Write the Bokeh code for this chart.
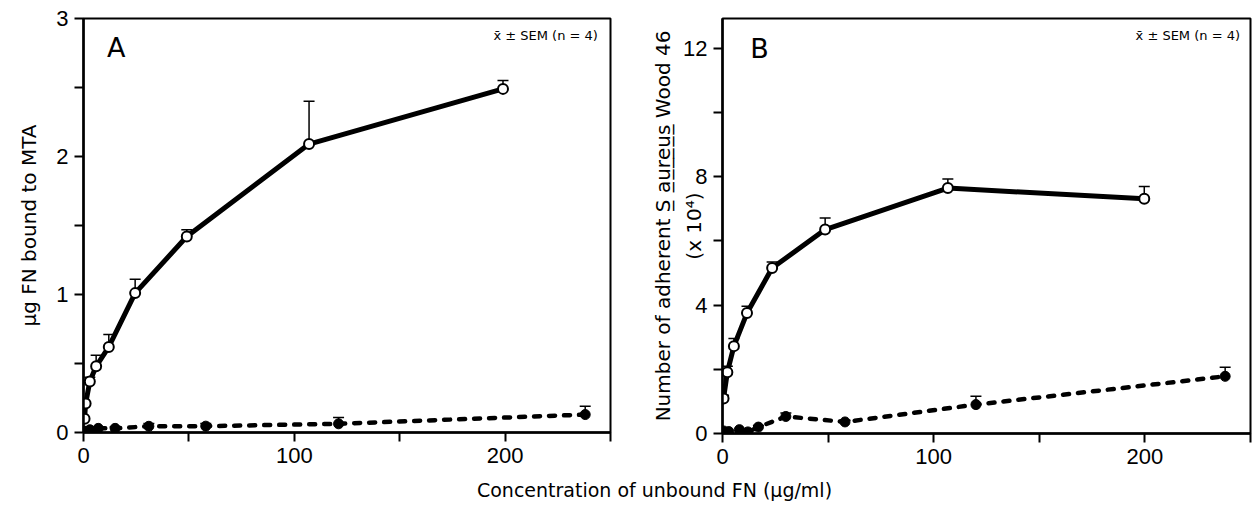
import math
from bokeh.plotting import figure
from bokeh.models import ColumnDataSource, Whisker, TeeHead, Label, FixedTicker, Range1d
from bokeh.layouts import column, row
from bokeh.embed import file_html
from bokeh.resources import INLINE
from bokeh.core.properties import value

# ---------------- data ----------------
# Panel A: ug FN bound to MTA
a_open_x = [0.5, 1, 3, 6, 12, 24.5, 49, 107, 199]
a_open_y = [0.10, 0.21, 0.37, 0.48, 0.62, 1.01, 1.42, 2.09, 2.49]
a_open_err = [0, 0, 0.03, 0.08, 0.09, 0.10, 0.05, 0.31, 0.06]

a_closed_x = [0.5, 3, 7, 15, 31, 58, 121, 238]
a_closed_y = [0.01, 0.02, 0.03, 0.03, 0.045, 0.046, 0.063, 0.13]
a_closed_err = [0, 0, 0.01, 0.01, 0.02, 0.02, 0.045, 0.06]

# Panel B: number of adherent S. aureus Wood 46 (x 10^4)
b_open_x = [0.5, 2.3, 5.4, 11.6, 23.5, 48.6, 106.7, 199.7]
b_open_y = [1.09, 1.91, 2.72, 3.75, 5.15, 6.35, 7.64, 7.31]
b_open_err = [0.1, 0.18, 0.24, 0.21, 0.19, 0.36, 0.28, 0.38]

b_closed_x = [0.5, 3, 8, 12, 17, 30, 58, 120, 238]
b_closed_y = [0.08, 0.06, 0.12, 0.05, 0.2, 0.53, 0.36, 0.9, 1.78]
b_closed_err = [0, 0, 0, 0, 0.05, 0.11, 0.05, 0.26, 0.28]

x_ticks = [0, 100, 200]
x_minor = [50, 150, 250]
a_yticks = [0, 1, 2, 3]
a_yminor = [0.5, 1.5, 2.5]
b_yticks = [0, 4, 8, 12]
b_yminor = [2, 6, 10]

TICK_FONT = "Liberation Sans"
LABEL_FONT = "DejaVu Sans"


def whiskers(p, xs, ys, errs):
    keep = [i for i, e in enumerate(errs) if e > 0]
    src = ColumnDataSource(dict(
        x=[xs[i] for i in keep],
        lower=[ys[i] for i in keep],
        upper=[ys[i] + errs[i] for i in keep],
    ))
    w = Whisker(source=src, base="x", lower="lower", upper="upper",
                dimension="height", line_width=1.5, line_color="black",
                upper_head=TeeHead(size=11, line_width=1.5, line_color="black"),
                lower_head=None)
    p.add_layout(w)


def style(p, yticks, yminor, ylabel, ylabel_standoff):
    p.xaxis.ticker = FixedTicker(ticks=x_ticks, minor_ticks=x_minor)
    p.yaxis.ticker = FixedTicker(ticks=yticks, minor_ticks=yminor)
    for ax in (p.xaxis[0], p.yaxis[0]):
        ax.axis_line_width = 2.5
        ax.axis_line_color = "black"
        ax.major_tick_line_width = 2
        ax.minor_tick_line_width = 2
        ax.major_tick_line_color = "black"
        ax.minor_tick_line_color = "black"
        ax.major_tick_out = 9
        ax.major_tick_in = 0
        ax.minor_tick_out = 9
        ax.minor_tick_in = 0
        ax.major_label_text_font = TICK_FONT
        ax.major_label_text_font_size = "22px"
        ax.major_label_text_color = "black"
        ax.major_label_standoff = 6
        ax.axis_label_text_font = LABEL_FONT
        ax.axis_label_text_font_style = "normal"
        ax.axis_label_text_font_size = "20px"
        ax.axis_label_text_color = "black"
    p.yaxis.axis_label = ylabel
    p.yaxis.axis_label_standoff = ylabel_standoff
    p.xgrid.visible = False
    p.ygrid.visible = False
    p.outline_line_color = "black"
    p.outline_line_width = 2
    p.outline_line_alpha = 1.0


def series(p, ox, oy, oerr, cx, cy, cerr):
    whiskers(p, ox, oy, oerr)
    whiskers(p, cx, cy, cerr)
    p.line(cx, cy, line_width=4.5, line_color="black", line_dash="6 9", line_cap="round")
    p.line(ox, oy, line_width=5, line_color="black", line_join="round")
    p.scatter(cx, cy, marker="circle", size=10, fill_color="black", line_color="black")
    p.scatter(ox, oy, marker="circle", size=10, fill_color="white", line_color="black", line_width=2)


# ---------------- panel A ----------------
pA = figure(frame_width=527, frame_height=414, x_range=Range1d(0, 250), y_range=Range1d(0, 3),
            output_backend="svg", toolbar_location=None,
            min_border_left=83, min_border_right=20, min_border_top=18, min_border_bottom=38,
            background_fill_color="white", border_fill_color="white")
style(pA, a_yticks, a_yminor, "µg FN bound to MTA", 12)
series(pA, a_open_x, a_open_y, a_open_err, a_closed_x, a_closed_y, a_closed_err)
pA.add_layout(Label(x=15.5, y=2.79, text="A", text_font=LABEL_FONT, text_font_size="27px",
                    text_align="center", text_baseline="middle", text_color="black"))
pA.add_layout(Label(x=246, y=2.88, text="x̄ ± SEM  (n = 4)", text_font=LABEL_FONT,
                    text_font_size="13px", text_align="right", text_baseline="middle",
                    text_color="black"))

# ---------------- panel B ----------------
pB = figure(frame_width=528, frame_height=415, x_range=Range1d(0, 250), y_range=Range1d(0, 12.92),
            output_backend="svg", toolbar_location=None,
            min_border_left=92, min_border_right=2, min_border_top=14, min_border_bottom=41,
            background_fill_color="white", border_fill_color="white")
style(pB, b_yticks, b_yminor, "Number of adherent S̲ a̲u̲r̲e̲u̲s̲ Wood 46\n(x 10⁴)", -26)
pB.yaxis.axis_label_text_line_height = 1.3
series(pB, b_open_x, b_open_y, b_open_err, b_closed_x, b_closed_y, b_closed_err)
pB.add_layout(Label(x=17.5, y=12.0, text="B", text_font=LABEL_FONT, text_font_size="27px",
                    text_align="center", text_baseline="middle", text_color="black"))
pB.add_layout(Label(x=247, y=12.4, text="x̄ ± SEM  (n = 4)", text_font=LABEL_FONT,
                    text_font_size="13px", text_align="right", text_baseline="middle",
                    text_color="black"))

# ---------------- shared x label ----------------
pX = figure(width=1252, height=33, x_range=Range1d(0, 1252), y_range=Range1d(0, 33),
            output_backend="svg", toolbar_location=None, min_border=0,
            outline_line_color=None)
pX.axis.visible = False
pX.xgrid.visible = False
pX.ygrid.visible = False
pX.text(x=[654], y=[14], text=["Concentration of unbound FN (µg/ml)"],
        text_font=value(LABEL_FONT), text_font_size="19px", text_align="center",
        text_baseline="middle", text_color="black")

layout = column(row(pA, pB), pX)
open("out.html", "w").write(file_html(layout, INLINE))
